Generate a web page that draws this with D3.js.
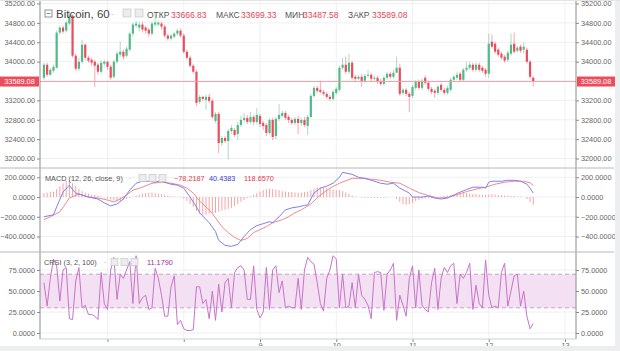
<!DOCTYPE html>
<html>
<head>
<meta charset="utf-8">
<script src="https://cdn.jsdelivr.net/npm/d3@7"></script>
<style>
  body { margin: 0; background: #fff; }
  svg { display: block; font-family: "Liberation Sans", Arial, sans-serif; }
</style>
</head>
<body>
<div id="chart"></div>
<script>
// Bitcoin, 60 min candles, 6-12 July
const firstCandle = new Date(Date.UTC(2021, 6, 6, 4));

const open = [33667,33936,33729,33811,33874,34599,34703,34640,34786,34951,
  34122,33853,33998,34350,34081,34039,33998,33936,33791,33957,
  33998,33894,33687,33998,34143,34205,34122,34247,34578,34744,
  34703,34765,34703,34661,34578,34765,34765,34786,34723,34537,
  34475,34516,34578,34640,34537,34205,34081,33915,33791,33169,
  33273,33210,33273,33190,32775,32921,32319,32423,32361,32568,
  32589,32506,32692,32796,32838,32755,32858,32755,32879,32734,
  32692,32527,32796,32465,32817,32879,32941,32858,32796,32734,
  32817,32734,32796,32672,32858,33293,33459,33418,33376,33335,
  33273,33231,33355,33418,33874,33936,33791,33977,33687,33646,
  33687,33604,33708,33729,33646,33667,33584,33542,33667,33749,
  33687,33770,33874,33355,33418,33335,33293,33459,33584,33459,
  33667,33563,33438,33397,33355,33521,33418,33355,33418,33625,
  33667,33749,33625,33832,33874,33936,33832,33936,33874,33832,
  33749,34412,34371,34247,34164,34102,34039,34164,34371,34226,
  34309,34247,34247,33998,33666.83];
const close = [33936,33729,33832,33894,34599,34703,34620,34806,34951,34122,
  33853,33998,34350,34081,34019,33977,33915,33791,33977,33998,
  33894,33667,33998,34164,34205,34102,34267,34578,34765,34786,
  34765,34661,34640,34578,34786,34806,34806,34723,34537,34475,
  34537,34578,34640,34537,34205,34081,33915,33791,33148,33273,
  33231,33273,33190,32858,32921,32319,32423,32361,32568,32630,
  32485,32692,32796,32838,32755,32858,32755,32900,32713,32672,
  32527,32796,32444,32817,32900,32941,32838,32796,32734,32817,
  32734,32796,32692,32858,33293,33459,33397,33376,33335,33273,
  33231,33376,33438,33874,33936,33791,33977,33667,33646,33687,
  33604,33708,33729,33646,33667,33584,33542,33667,33749,33687,
  33770,33874,33335,33418,33335,33273,33480,33584,33459,33604,
  33563,33438,33376,33355,33480,33418,33355,33459,33625,33687,
  33729,33625,33832,33874,33936,33832,33936,33832,33811,33749,
  34371,34309,34205,34143,34081,34019,34184,34350,34205,34288,
  34226,34309,33998,33687,33589.08];
const high = [33977,33977,33874,33936,34640,34744,34744,34848,35034,34972,
  34164,34081,34454,34371,34122,34081,34039,33977,34019,34039,
  34019,33936,34039,34205,34412,34247,34309,34620,34806,34848,
  34827,34827,34744,34703,34827,34972,34848,34827,34765,34578,
  34578,34620,34682,34682,34578,34247,34122,33957,33832,33314,
  33293,33314,33335,33231,32962,32962,32465,32465,32610,32692,
  32630,32755,32879,32941,32900,32962,32900,33045,32921,32775,
  32734,32838,32838,32858,33128,32983,32983,32900,32838,32858,
  32879,32838,32858,32900,33335,33501,33501,33604,33418,33376,
  33314,33418,33480,33915,34081,34102,34164,34019,33729,33729,
  33749,33749,33832,33770,33708,33708,33646,33708,33791,33791,
  33832,34102,33957,33459,33459,33376,33521,33625,33625,33646,
  33708,33604,33480,33438,33521,33563,33459,33501,33667,33729,
  33791,33791,33874,33998,33998,33977,33977,33977,33915,33874,
  34578,34558,34412,34288,34205,34143,34226,34578,34599,34330,
  34350,34392,34288,34039,33699.33];
const low = [33625,33687,33708,33770,33853,34558,34578,34599,34744,34081,
  33811,33811,33957,34039,33977,33915,33480,33729,33749,33915,
  33832,33625,33646,33957,34102,34039,34081,34205,34516,34703,
  34620,34599,34578,34516,34537,34723,34723,34661,34495,34433,
  34433,34475,34537,34495,34164,34039,33874,33749,33086,33128,
  33190,33003,33148,32817,32734,32112,32257,32319,31987,32506,
  32444,32381,32651,32755,32713,32713,32692,32713,32651,32589,
  32465,32485,32381,32402,32775,32838,32796,32734,32692,32692,
  32506,32672,32651,32485,32838,33252,33355,33335,33293,33231,
  33190,33190,33314,33376,33832,33749,33749,33625,33604,33625,
  33480,33563,33667,33604,33604,33542,33501,33501,33625,33646,
  33646,33832,33293,33314,33293,32962,33252,33418,33418,33418,
  33521,33397,33335,33252,33314,33376,33314,33314,33376,33584,
  33625,33584,33584,33791,33832,33791,33791,33791,33770,33687,
  33667,34267,34164,34102,34039,33977,33998,34122,34164,34184,
  34184,34164,33957,33646,33487.58];

// MACD (12, 26, close, 9): lines read at a subset of candles, histogram per candle
const macdIdx = [0,3,4,6,8,9,10,12,14,17,19,21,23,25,27,29,31,33,35,37,
  38,40,42,44,46,48,49,52,54,55,57,59,61,63,65,67,69,71,72,74,
  76,78,80,82,83,85,87,89,91,93,94,97,99,101,103,106,108,110,112,115,
  116,119,121,123,125,127,129,131,133,135,138,139,140,141,144,146,148,150,152,153,154];
const macdVal = [-200,-180,-100,50,120,75,40,20,0,-20,-60,-90,-70,-20,70,140,160,160,150,170,
  150,130,120,90,0,-100,-160,-260,-350,-440,-490,-500,-480,-400,-330,-290,-270,-250,-260,-200,
  -130,-110,-100,-85,-80,40,90,110,140,200,250,230,200,190,170,140,130,140,90,40,
  0,0,10,-10,-20,-10,20,50,75,100,100,90,150,160,160,170,170,160,130,90,40.4383];
const signalIdx = [0,2,5,7,8,11,14,17,20,22,24,26,28,31,34,37,40,43,45,47,
  49,52,54,56,58,60,62,64,66,68,70,72,75,77,79,81,84,87,90,93,
  97,100,103,106,109,112,115,118,121,124,127,130,133,136,139,142,145,148,151,153,154];
const signalVal = [-230,-200,-150,-60,-10,30,0,-10,-30,-50,-20,20,70,100,140,150,140,120,90,40,
  -40,-130,-210,-300,-360,-410,-440,-420,-360,-330,-300,-260,-230,-200,-160,-130,-70,20,90,140,
  190,190,180,170,150,140,90,45,15,-10,-5,25,55,80,100,130,150,160,160,145,118.657];
const histVal = [40,45,50,55,80,110,140,165,170,140,110,80,60,45,35,25,20,15,5,-5,
  -15,-25,-35,-45,-40,-30,-20,-10,5,15,25,35,40,45,45,40,35,30,25,15,
  10,5,0,-5,-15,-40,-70,-100,-140,-170,-180,-180,-170,-160,-160,-150,-140,-130,-120,-110,
  -90,-70,-50,-30,-10,10,25,40,55,70,80,85,80,75,70,60,55,50,50,45,
  45,45,50,55,70,85,100,100,95,90,85,75,70,70,60,45,30,15,5,0,
  -5,-5,-10,-10,-5,-10,-5,-5,-5,0,0,-20,-50,-70,-80,-70,-60,-40,-30,-20,
  -15,-10,-10,-5,0,5,10,15,20,25,30,35,40,40,35,30,30,25,25,20,
  25,30,25,20,20,15,15,10,10,5,5,0,-20,-50,-78.2187];

// CRSI (3, 2, 100), one value per candle
const crsiVal = [60,32,65,88,80,38,75,78,17,16,62,78,30,33,22,22,20,16,72,35,
  28,75,90,40,70,65,75,85,35,92,35,42,45,28,30,77,65,45,20,20,
  55,68,10,15,5,3,3,4,55,55,35,40,17,50,15,58,25,60,65,30,
  72,78,80,75,40,40,80,28,18,25,78,28,75,80,48,62,30,32,30,30,
  65,28,75,90,85,82,60,35,26,65,75,92,88,30,70,30,32,60,30,70,
  45,40,33,17,72,73,72,27,70,75,83,15,45,33,20,65,80,30,75,33,
  28,25,60,77,28,65,78,72,80,83,35,70,65,72,83,28,57,35,30,87,
  45,30,32,30,72,83,32,50,68,70,32,50,20,5,11.179];

const priceTicks = [32000,32400,32800,33200,33600,34000,34400,34800,35200];
const macdTicks = [-400,-200,0,200];
const crsiTicks = [0,25,50,75];
const crsiBand = [30,70];
const dayTicks = [7,8,9,10,11,12,13].map(d => new Date(Date.UTC(2021, 6, d)));

const width = 620, height = 351;
const left = 40, right = 576;
const upColor = "#53b987", downColor = "#eb4d5c";
const gridColor = "#eef0f2", axisColor = "#8a8a8a", labelColor = "#666";
const axisFont = "7.3px";

const svg = d3.select("#chart").append("svg")
  .attr("width", width).attr("height", height);

const times = open.map((d, i) => d3.utcHour.offset(firstCandle, i));
const x = d3.scaleUtc()
  .domain([new Date(Date.UTC(2021, 6, 9)), new Date(Date.UTC(2021, 6, 13))])
  .range([260, 565]);

const panes = [
  { top: 0, bottom: 168, y: d3.scaleLinear().domain([32000, 35200]).range([158.5, 3.5]),
    ticks: priceTicks, fmt: d3.format(".2f") },
  { top: 168, bottom: 252, y: d3.scaleLinear().domain([-400, 200]).range([236.5, 177.3]),
    ticks: macdTicks, fmt: d3.format(".4f") },
  { top: 252, bottom: 339, y: d3.scaleLinear().domain([0, 75]).range([333, 270]),
    ticks: crsiTicks, fmt: d3.format(".4f") }
];
const mainY = panes[0].y;
const last = close[close.length - 1];

const defs = svg.append("defs");
panes.forEach((p, k) => {
  defs.append("clipPath").attr("id", "clip" + k)
    .append("rect").attr("x", left).attr("y", p.top)
    .attr("width", right - left).attr("height", p.bottom - p.top);
});

// grid
panes.forEach(p => {
  const g = svg.append("g");
  g.selectAll(".vg").data(dayTicks).join("line")
    .attr("x1", d => x(d)).attr("x2", d => x(d))
    .attr("y1", p.top).attr("y2", p.bottom)
    .attr("stroke", gridColor);
  g.selectAll(".hg").data(p.ticks).join("line")
    .attr("x1", left).attr("x2", right)
    .attr("y1", d => p.y(d)).attr("y2", d => p.y(d))
    .attr("stroke", gridColor);
});

// CRSI band
const crsiPane = panes[2];
svg.append("rect")
  .attr("x", left).attr("width", right - left)
  .attr("y", crsiPane.y(crsiBand[1]))
  .attr("height", crsiPane.y(crsiBand[0]) - crsiPane.y(crsiBand[1]))
  .attr("fill", "#f3e1f3");
svg.selectAll(".bandLine").data(crsiBand).join("line")
  .attr("x1", left).attr("x2", right)
  .attr("y1", d => crsiPane.y(d)).attr("y2", d => crsiPane.y(d))
  .attr("stroke", "#c9a0c9").attr("stroke-dasharray", "4,3");

// candles
const candles = svg.append("g").attr("clip-path", "url(#clip0)")
  .selectAll("g").data(open.map((o, i) => ({ t: times[i], o, c: close[i], h: high[i], l: low[i] })))
  .join("g");
candles.append("line")
  .attr("x1", d => x(d.t)).attr("x2", d => x(d.t))
  .attr("y1", d => mainY(d.h)).attr("y2", d => mainY(d.l))
  .attr("stroke", d => d.c >= d.o ? upColor : downColor)
  .attr("stroke-width", 0.8).attr("opacity", 0.6);
candles.append("rect")
  .attr("x", d => x(d.t) - 1.1).attr("width", 2.2)
  .attr("y", d => mainY(Math.max(d.o, d.c)))
  .attr("height", d => Math.max(1, Math.abs(mainY(d.o) - mainY(d.c))))
  .attr("fill", d => d.c >= d.o ? upColor : downColor);

// MACD
const macdY = panes[1].y;
const macdG = svg.append("g").attr("clip-path", "url(#clip1)");
macdG.selectAll("line").data(histVal).join("line")
  .attr("x1", (d, i) => x(times[i])).attr("x2", (d, i) => x(times[i]))
  .attr("y1", macdY(0)).attr("y2", d => macdY(d))
  .attr("stroke", "#f29a9a").attr("stroke-width", 0.9);
const macdLine = d3.line().x(d => x(times[d[0]])).y(d => macdY(d[1]));
macdG.append("path")
  .attr("d", macdLine(signalIdx.map((t, i) => [t, signalVal[i]])))
  .attr("fill", "none").attr("stroke", "#f08a8a").attr("stroke-width", 1);
macdG.append("path")
  .attr("d", macdLine(macdIdx.map((t, i) => [t, macdVal[i]])))
  .attr("fill", "none").attr("stroke", "#8080ee").attr("stroke-width", 1);

// CRSI
svg.append("path").attr("clip-path", "url(#clip2)")
  .attr("d", d3.line().x((d, i) => x(times[i])).y(d => crsiPane.y(d))(crsiVal))
  .attr("fill", "none").attr("stroke", "#c874c8").attr("stroke-width", 1);

// current price line
svg.append("line")
  .attr("x1", left).attr("x2", right)
  .attr("y1", mainY(last)).attr("y2", mainY(last))
  .attr("stroke", "#f4a0a8").attr("stroke-width", 1);

// axes
panes.forEach((p, k) => {
  const gl = svg.append("g").attr("transform", `translate(${left},0)`)
    .call(d3.axisLeft(p.y).tickValues(p.ticks).tickFormat(p.fmt).tickSize(3).tickPadding(2));
  const gr = svg.append("g").attr("transform", `translate(${right},0)`)
    .call(d3.axisRight(p.y).tickValues(p.ticks).tickFormat(p.fmt).tickSize(3).tickPadding(2));
  [gl, gr].forEach(g => {
    g.select(".domain").remove();
    g.selectAll("line").attr("stroke", axisColor);
    g.selectAll("text").attr("fill", labelColor).style("font-size", axisFont);
    // the price marker hides the tick it sits on
    if (k === 0) g.selectAll(".tick").filter(d => Math.abs(mainY(d) - mainY(last)) < 9).remove();
  });
});

const xAxis = svg.append("g").attr("transform", "translate(0,339)")
  .call(d3.axisBottom(x).tickValues(dayTicks).tickSize(3).tickPadding(1)
    .tickFormat(d => d.getUTCDate() >= 9 ? d.getUTCDate() : ""));
xAxis.select(".domain").remove();
xAxis.selectAll("line").attr("stroke", axisColor);
xAxis.selectAll("text").attr("fill", labelColor).style("font-size", axisFont);

// frame lines
svg.append("line").attr("x1", left).attr("x2", left).attr("y1", 0).attr("y2", 339).attr("stroke", axisColor);
svg.append("line").attr("x1", right).attr("x2", right).attr("y1", 0).attr("y2", 339).attr("stroke", axisColor);
svg.append("line").attr("x1", left).attr("x2", right).attr("y1", 339).attr("y2", 339).attr("stroke", "#d0d0d0");
[168, 252].forEach(yy => {
  svg.append("line").attr("x1", 0).attr("x2", 614).attr("y1", yy).attr("y2", yy)
    .attr("stroke", "#b8b8b8");
});

// price marker on both axes
[[0, 39], [577, 38]].forEach(([bx, bw]) => {
  svg.append("rect").attr("x", bx).attr("y", mainY(last) - 5).attr("width", bw).attr("height", 10)
    .attr("fill", downColor);
  svg.append("text").attr("x", bx + bw / 2).attr("y", mainY(last) + 2.6)
    .attr("text-anchor", "middle").attr("fill", "#fff").style("font-size", axisFont)
    .text(d3.format(".2f")(last));
});

// legends
function icons(xs, y, size) {
  xs.forEach(ix => {
    svg.append("rect").attr("x", ix).attr("y", y).attr("width", size).attr("height", size)
      .attr("fill", "#ececec").attr("stroke", "#c8c8c8").attr("stroke-width", 0.7);
  });
}

svg.append("rect").attr("x", 45).attr("y", 10).attr("width", 7).attr("height", 7)
  .attr("fill", "none").attr("stroke", "#777").attr("stroke-width", 0.8);
svg.append("line").attr("x1", 46.5).attr("x2", 50.5).attr("y1", 13.5).attr("y2", 13.5)
  .attr("stroke", "#777").attr("stroke-width", 0.8);
svg.append("text").attr("x", 56).attr("y", 18).attr("fill", "#444")
  .style("font-size", "11.5px").text("Bitcoin, 60");
svg.append("text").attr("x", 111).attr("y", 16).attr("fill", "#bbb")
  .style("font-size", "8px").text("-");
icons([123, 135], 9, 8);

const ohlc = [["ОТКР", open], ["МАКС", high], ["МИН", low], ["ЗАКР", close]];
const nameX = [147, 216, 285, 348];
const valueX = [171, 241, 303, 372];
ohlc.forEach(([name, arr], k) => {
  svg.append("text").attr("x", nameX[k]).attr("y", 17.5).attr("fill", "#555")
    .style("font-size", "8.5px").text(name);
  svg.append("text").attr("x", valueX[k]).attr("y", 17.5).attr("fill", "#e0485a")
    .style("font-size", "8.5px").text(d3.format(".2f")(arr[arr.length - 1]));
});

svg.append("text").attr("x", 45).attr("y", 181).attr("fill", "#555")
  .style("font-size", "7.3px").text("MACD (12, 26, close, 9)");
svg.append("text").attr("x", 129).attr("y", 180).attr("fill", "#bbb")
  .style("font-size", "7px").text("-");
icons([139, 149, 159], 174.5, 7);
const macdLegend = [[histVal, "#e03c4a", 174], [macdVal, "#3a3ad0", 209], [signalVal, "#e03c4a", 244]];
macdLegend.forEach(([arr, col, lx]) => {
  svg.append("text").attr("x", lx).attr("y", 181).attr("fill", col)
    .style("font-size", "7.3px").text(d3.format(".4f")(arr[arr.length - 1]));
});

svg.append("text").attr("x", 44).attr("y", 265).attr("fill", "#555")
  .style("font-size", "7.3px").text("CRSI (3, 2, 100)");
svg.append("text").attr("x", 104).attr("y", 264).attr("fill", "#bbb")
  .style("font-size", "7px").text("-");
icons([111, 121, 131], 258.5, 7);
svg.append("text").attr("x", 147).attr("y", 265).attr("fill", "#a030a0")
  .style("font-size", "7.3px").text(d3.format(".4f")(crsiVal[crsiVal.length - 1]));

// screenshot frame
svg.append("rect").attr("x", 0).attr("y", 346).attr("width", width).attr("height", 5).attr("fill", "#eceef0");
svg.append("rect").attr("x", 615).attr("y", 0).attr("width", 5).attr("height", height).attr("fill", "#eceef0");
svg.append("line").attr("x1", 0).attr("x2", width).attr("y1", 0.5).attr("y2", 0.5).attr("stroke", "#e4e4e4");
</script>
</body>
</html>
